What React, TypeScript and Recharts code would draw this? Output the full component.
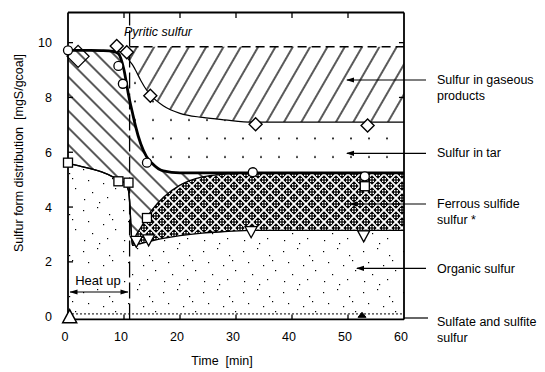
import React from 'react';
import {
  ComposedChart, Area, Line, Scatter, XAxis, YAxis, ReferenceLine,
} from 'recharts';

// ---- data ----
const TIME = [0, 2, 4, 6, 8, 9, 10, 10.8, 11, 11.5, 12, 13, 14, 15, 17, 20, 24, 28, 33, 40, 53, 60];
const SULFATE_TOP = [0.1, 0.1, 0.1, 0.1, 0.1, 0.1, 0.1, 0.1, 0.1, 0.1, 0.1, 0.1, 0.1, 0.1, 0.1, 0.1, 0.1, 0.1, 0.1, 0.1, 0.1, 0.1];
const ORGANIC_TOP = [5.6, 5.5, 5.4, 5.28, 5.1, 4.98, 4.9, 4.6, 4.2, 2.6, 2.62, 2.67, 2.72, 2.77, 2.86, 2.96, 3.05, 3.1, 3.15, 3.15, 3.15, 3.15];
const FES_TOP = [5.6, 5.5, 5.4, 5.28, 5.1, 4.98, 4.9, 4.6, 4.2, 2.6, 2.9, 3.25, 3.6, 3.9, 4.35, 4.8, 5.1, 5.2, 5.25, 5.25, 5.25, 5.25];
const PYRITIC_TOP = [9.72, 9.72, 9.72, 9.71, 9.68, 9.6, 9.0, 8.1, 7.9, 7.45, 7.0, 6.3, 5.85, 5.6, 5.32, 5.25, 5.25, 5.25, 5.25, 5.25, 5.25, 5.25];
const GAS_BOTTOM = [9.72, 9.72, 9.72, 9.71, 9.7, 9.68, 9.58, 9.4, 9.33, 9.2, 9.02, 8.62, 8.28, 8.03, 7.7, 7.42, 7.27, 7.18, 7.1, 7.1, 7.1, 7.1];
const GAS_TOP = [9.72, 9.72, 9.72, 9.71, 9.7, 9.68, 9.58, 9.4, 9.85, 9.85, 9.85, 9.85, 9.85, 9.85, 9.85, 9.85, 9.85, 9.85, 9.85, 9.85, 9.85, 9.85];
const HEAT_UP_END = 11;

const CIRCLES = [{ t: 0, y: 9.72 }, { t: 9, y: 9.15 }, { t: 9.8, y: 8.5 }, { t: 14.1, y: 5.62 }, { t: 33, y: 5.27 }, { t: 53, y: 5.12 }];
const DIAMONDS = [{ t: 8.7, y: 9.88 }, { t: 10.5, y: 9.65 }, { t: 14.7, y: 8.06 }, { t: 33.5, y: 7.02 }, { t: 53.5, y: 6.98 }];
const BIG_DIAMONDS = [{ t: 1.8, y: 9.5 }];
const SQUARES = [{ t: 0, y: 5.62 }, { t: 9, y: 4.94 }, { t: 10.8, y: 4.89 }, { t: 14.1, y: 3.6 }, { t: 53, y: 4.76 }];
const TRIANGLES_DOWN = [{ t: 12.2, y: 2.75 }, { t: 14.4, y: 2.8 }, { t: 32.7, y: 3.1 }, { t: 52.8, y: 2.95 }];
const TRIANGLES_UP = [{ t: 0.3, y: 0 }];
const TRIANGLES_SMALL = [{ t: 52.5, y: 0.05 }];

const X_TICKS = [0, 10, 20, 30, 40, 50, 60];
const Y_TICKS = [0, 2, 4, 6, 8, 10];
const TOP_TICKS = [10, 20, 30, 40, 50];
const RIGHT_TICKS = [8, 10];

const data = TIME.map((t, i) => ({
  t,
  sul: SULFATE_TOP[i],
  org: ORGANIC_TOP[i],
  fes: FES_TOP[i],
  pyr: PYRITIC_TOP[i],
  gasB: GAS_BOTTOM[i],
  gasT: GAS_TOP[i],
  gasTL: t >= HEAT_UP_END ? GAS_TOP[i] : null,
}));

const FONT = '"Liberation Sans", Arial, Helvetica, sans-serif';
const Y_MIN = -0.1;
const Y_MAX = 11.1;

const YTick = (p: any) => {
  const v = p.payload.value;
  return (
    <g>
      {v !== 0 && <line x1={p.x} x2={p.x + 5} y1={p.y} y2={p.y} stroke="#000" strokeWidth={1.3} />}
      <text x={p.x - 16} y={p.y + 4.5} textAnchor="end" fontSize={12.5} fontFamily={FONT} fill="#000">{v}</text>
    </g>
  );
};

const XTick = (p: any) => {
  const v = p.payload.value;
  return (
    <g>
      {v !== 0 && v !== 60 && <line x1={p.x} x2={p.x} y1={p.y} y2={p.y - 5} stroke="#000" strokeWidth={1.3} />}
      <text x={p.x - 3} y={p.y + 21.5} textAnchor="middle" fontSize={12.5} fontFamily={FONT} fill="#000">{v}</text>
    </g>
  );
};

const CircleShape = (p: any) => <circle cx={p.cx} cy={p.cy} r={4.5} fill="#fff" stroke="#000" strokeWidth={1.3} />;
const SquareShape = (p: any) => <rect x={p.cx - 4.5} y={p.cy - 4.5} width={9} height={9} fill="#fff" stroke="#000" strokeWidth={1.3} />;
const DiamondShape = (p: any) => (
  <polygon points={`${p.cx},${p.cy - 6.5} ${p.cx + 6.5},${p.cy} ${p.cx},${p.cy + 6.5} ${p.cx - 6.5},${p.cy}`} fill="#fff" stroke="#000" strokeWidth={1.4} />
);
const BigDiamondShape = (p: any) => (
  <polygon points={`${p.cx},${p.cy - 11} ${p.cx + 11},${p.cy} ${p.cx},${p.cy + 11} ${p.cx - 11},${p.cy}`} fill="none" stroke="#000" strokeWidth={1.3} />
);
const TriDownShape = (p: any) => (
  <polygon points={`${p.cx - 6},${p.cy - 5} ${p.cx + 6},${p.cy - 5} ${p.cx},${p.cy + 6}`} fill="#fff" stroke="#000" strokeWidth={1.3} />
);
const TriUpShape = (p: any) => (
  <polygon points={`${p.cx - 7},${p.cy + 6} ${p.cx + 7},${p.cy + 6} ${p.cx},${p.cy - 7}`} fill="#fff" stroke="#000" strokeWidth={1.5} />
);
const TriSmallShape = (p: any) => (
  <polygon points={`${p.cx - 4},${p.cy + 2} ${p.cx + 4},${p.cy + 2} ${p.cx},${p.cy - 3}`} fill="#000" stroke="#000" strokeWidth={1} />
);

const ORGANIC_SPECKS = [
  [3, 5], [17, 2], [29, 9], [8, 16], [23, 19], [35, 24], [12, 28], [4, 35], [27, 33], [19, 38], [32, 14],
];

const Arrow = ({ x, y }: { x: number; y: number }) => (
  <polygon points={`${x},${y} ${x + 8},${y - 2.6} ${x + 8},${y + 2.6}`} fill="#000" />
);
const ArrowR = ({ x, y }: { x: number; y: number }) => (
  <polygon points={`${x},${y} ${x - 8},${y - 2.6} ${x - 8},${y + 2.6}`} fill="#000" />
);

const txt = { fontFamily: FONT, fontSize: 12.5, fill: '#000' } as const;

export default function App() {
  return (
    <div style={{ position: 'absolute', left: 0, top: 0, width: 545, height: 372, background: '#fff' }}>
      <ComposedChart
        width={545}
        height={372}
        data={data}
        margin={{ top: 12.5, right: 141, bottom: 12.6, left: 8 }}
      >
        <defs>
          <pattern id="pyrHatch" patternUnits="userSpaceOnUse" width={12} height={12} patternTransform="rotate(45)">
            <rect width={12} height={12} fill="#fff" />
            <line x1={0} y1={6} x2={12} y2={6} stroke="#000" strokeWidth={1.3} />
          </pattern>
          <pattern id="gasHatch" patternUnits="userSpaceOnUse" width={15} height={15} patternTransform="rotate(-60)">
            <rect width={15} height={15} fill="#fff" />
            <line x1={0} y1={7} x2={15} y2={7} stroke="#000" strokeWidth={1.3} />
          </pattern>
          <pattern id="tarDots" patternUnits="userSpaceOnUse" width={18} height={18.5}>
            <rect width={18} height={18.5} fill="#fff" />
            <circle cx={9} cy={9} r={1} fill="#000" />
          </pattern>
          <pattern id="fesPat" patternUnits="userSpaceOnUse" width={12} height={12}>
            <rect width={12} height={12} fill="#fff" />
            {[[6, 6], [0, 0], [12, 0], [0, 12], [12, 12]].map(([cx, cy], i) => (
              <g key={i}>
                <polygon points={`${cx},${cy - 4.7} ${cx + 4.7},${cy} ${cx},${cy + 4.7} ${cx - 4.7},${cy}`} fill="#000" />
                <rect x={cx - 2} y={cy - 2} width={1.4} height={1.4} fill="#fff" />
                <rect x={cx + 0.6} y={cy - 2} width={1.4} height={1.4} fill="#fff" />
                <rect x={cx - 2} y={cy + 0.6} width={1.4} height={1.4} fill="#fff" />
                <rect x={cx + 0.6} y={cy + 0.6} width={1.4} height={1.4} fill="#fff" />
              </g>
            ))}
          </pattern>
          <pattern id="orgSpecks" patternUnits="userSpaceOnUse" width={40} height={41}>
            <rect width={40} height={41} fill="#fff" />
            {ORGANIC_SPECKS.map(([x, y], i) => (
              <rect key={i} x={x} y={y} width={1.2} height={1.2} fill="#000" />
            ))}
          </pattern>
        </defs>

        <XAxis
          dataKey="t"
          type="number"
          domain={[0, 60]}
          ticks={X_TICKS}
          height={40}
          tickSize={0}
          tickMargin={0}
          tickLine={false}
          axisLine={{ stroke: '#000', strokeWidth: 1.8 }}
          tick={XTick}
          interval={0}
        />
        <YAxis
          type="number"
          domain={[Y_MIN, Y_MAX]}
          ticks={Y_TICKS}
          width={60}
          tickSize={0}
          tickMargin={0}
          tickLine={false}
          axisLine={{ stroke: '#000', strokeWidth: 1.8 }}
          tick={YTick}
          interval={0}
        />

        <Area type="monotone" dataKey={(d: any) => [d.sul, d.org]} fill="url(#orgSpecks)" fillOpacity={1} stroke="none" isAnimationActive={false} />
        <Area type="monotone" dataKey={(d: any) => [d.org, d.fes]} fill="url(#fesPat)" fillOpacity={1} stroke="none" isAnimationActive={false} />
        <Area type="monotone" dataKey={(d: any) => [d.fes, d.pyr]} fill="url(#pyrHatch)" fillOpacity={1} stroke="none" isAnimationActive={false} />
        <Area type="monotone" dataKey={(d: any) => [d.pyr, d.gasB]} fill="url(#tarDots)" fillOpacity={1} stroke="none" isAnimationActive={false} />
        <Area type="monotone" dataKey={(d: any) => [d.gasB, d.gasT]} fill="url(#gasHatch)" fillOpacity={1} stroke="none" isAnimationActive={false} />

        <Line type="monotone" dataKey="sul" stroke="#000" strokeWidth={1} strokeDasharray="2 2" dot={false} isAnimationActive={false} />
        <Line type="monotone" dataKey="org" stroke="#000" strokeWidth={1.3} dot={false} isAnimationActive={false} />
        <Line type="monotone" dataKey="fes" stroke="#000" strokeWidth={1.3} dot={false} isAnimationActive={false} />
        <Line type="monotone" dataKey="gasB" stroke="#000" strokeWidth={1.2} dot={false} isAnimationActive={false} />
        <Line type="monotone" dataKey="gasTL" stroke="#000" strokeWidth={1.3} strokeDasharray="9 5" dot={false} isAnimationActive={false} />
        <Line type="monotone" dataKey="pyr" stroke="#000" strokeWidth={2.8} dot={false} isAnimationActive={false} />

        <ReferenceLine x={HEAT_UP_END} stroke="#000" strokeWidth={1.3} strokeDasharray="16 5" />
        <ReferenceLine y={Y_MAX} stroke="#000" strokeWidth={1.8} />
        <ReferenceLine x={60} stroke="#000" strokeWidth={1.8} />
        {TOP_TICKS.map((t) => (
          <ReferenceLine key={`tt${t}`} segment={[{ x: t, y: Y_MAX }, { x: t, y: Y_MAX - 0.2 }]} stroke="#000" strokeWidth={1.3} />
        ))}
        {RIGHT_TICKS.map((v) => (
          <ReferenceLine key={`rt${v}`} segment={[{ x: 60, y: v }, { x: 59.1, y: v }]} stroke="#000" strokeWidth={1.3} />
        ))}

        <Scatter data={TRIANGLES_DOWN} dataKey="y" shape={TriDownShape} isAnimationActive={false} />
        <Scatter data={SQUARES} dataKey="y" shape={SquareShape} isAnimationActive={false} />
        <Scatter data={BIG_DIAMONDS} dataKey="y" shape={BigDiamondShape} isAnimationActive={false} />
        <Scatter data={DIAMONDS} dataKey="y" shape={DiamondShape} isAnimationActive={false} />
        <Scatter data={CIRCLES} dataKey="y" shape={CircleShape} isAnimationActive={false} />
        <Scatter data={TRIANGLES_UP} dataKey="y" shape={TriUpShape} isAnimationActive={false} />
        <Scatter data={TRIANGLES_SMALL} dataKey="y" shape={TriSmallShape} isAnimationActive={false} />
      </ComposedChart>

      <svg width={545} height={372} style={{ position: 'absolute', left: 0, top: 0, pointerEvents: 'none' }}>
        <text transform="translate(23,153) rotate(-90)" textAnchor="middle" style={{ whiteSpace: 'pre' }} {...txt}>
          {'Sulfur form distribution  [mgS/gcoal]'}
        </text>
        <text x={222} y={365} textAnchor="middle" style={{ whiteSpace: 'pre' }} {...txt}>{'Time  [min]'}</text>
        <text x={158} y={36} textAnchor="middle" fontStyle="italic" {...txt}>Pyritic sulfur</text>

        <rect x={74} y={270} width={50} height={16} fill="#fff" />
        <text x={98} y={284.5} textAnchor="middle" {...txt} fontSize={13}>Heat up</text>
        <line x1={70} x2={128} y1={292} y2={292} stroke="#000" strokeWidth={1.2} />
        <Arrow x={69.5} y={292} />
        <ArrowR x={128.5} y={292} />

        <line x1={347} x2={426} y1={80} y2={80} stroke="#000" strokeWidth={1.2} />
        <Arrow x={346} y={80} />
        <line x1={347} x2={426} y1={153.3} y2={153.3} stroke="#000" strokeWidth={1.2} />
        <Arrow x={346} y={153.3} />
        <line x1={350} x2={426} y1={204} y2={204} stroke="#000" strokeWidth={1.2} />
        <Arrow x={349} y={204} />
        <line x1={357} x2={426} y1={268.3} y2={268.3} stroke="#000" strokeWidth={1.2} />
        <Arrow x={356} y={268.3} />
        <line x1={404} x2={428} y1={318} y2={318} stroke="#000" strokeWidth={1.2} />

        <text x={437} y={84} {...txt}>Sulfur in gaseous</text>
        <text x={437} y={100} {...txt}>products</text>
        <text x={437} y={157} {...txt}>Sulfur in tar</text>
        <text x={437} y={208} {...txt}>Ferrous sulfide</text>
        <text x={437} y={224} {...txt}>sulfur *</text>
        <text x={437} y={272.5} {...txt}>Organic sulfur</text>
        <text x={437} y={326} {...txt}>Sulfate and sulfite</text>
        <text x={437} y={341.5} {...txt}>sulfur</text>
      </svg>
    </div>
  );
}
